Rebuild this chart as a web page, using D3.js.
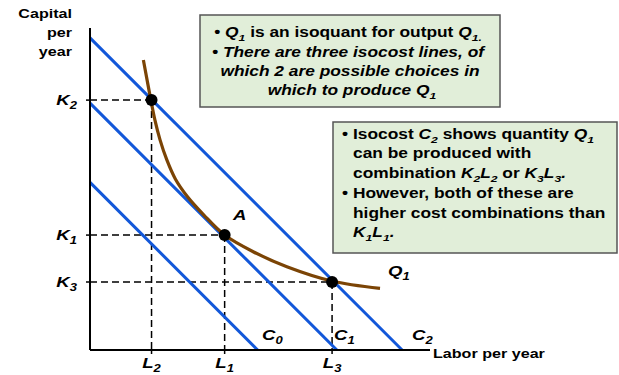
<!DOCTYPE html>
<html>
<head>
<meta charset="utf-8">
<script src="https://cdn.jsdelivr.net/npm/d3@7"></script>
<style>
  body { margin: 0; background: #fff; }
  svg { display: block; font-family: "Liberation Sans", Arial, sans-serif; font-weight: bold; }
</style>
</head>
<body>
<div id="chart"></div>
<script>
// quantities in the chart's own units (labor, capital)
const laborTicks = [
  { name: "L", sub: "2", v: 1.81 },
  { name: "L", sub: "1", v: 3.96 },
  { name: "L", sub: "3", v: 7.12 },
];
const capitalTicks = [
  { name: "K", sub: "2", v: 7.35 },
  { name: "K", sub: "1", v: 3.38 },
  { name: "K", sub: "3", v: 2.0 },
];
// isocost lines L + K = C
const isocosts = [
  { name: "C", sub: "0", c: 4.93 },
  { name: "C", sub: "1", c: 7.26 },
  { name: "C", sub: "2", c: 9.18 },
];
// isoquant Q1
const isoquant = [
  [1.57, 8.53], [1.79, 7.35], [1.91, 6.76], [2.06, 6.18], [2.26, 5.59],
  [2.51, 5.03], [2.85, 4.53], [3.35, 3.97], [3.96, 3.38], [4.8, 2.89],
  [5.79, 2.45], [7.11, 2.03], [8.53, 1.81],
];
// chosen combinations (L index, K index)
const combos = [[0, 0], [1, 1], [2, 2]];

const W = 619, H = 375;
const SX = 1.24; // the slide is stretched sideways
const x = d3.scaleLinear().domain([0, 10]).range([90, 430]);
const y = d3.scaleLinear().domain([0, 10]).range([350, 10]);
const yTop = 9.47;

const svg = d3.select("#chart").append("svg").attr("width", W).attr("height", H);

// text with italic / subscript parts
function rich(g, px, py, anchor, parts, size) {
  const t = g.append("text").attr("transform", `translate(${px},${py}) scale(${SX},1)`)
    .attr("text-anchor", anchor).attr("font-size", size).attr("fill", "#000");
  let down = false;
  for (const p of parts) {
    const s = t.append("tspan").text(p.t);
    if (p.i) s.attr("font-style", "italic");
    if (p.sub && !down) { s.attr("dy", 4).attr("font-size", size * 0.7); down = true; }
    else if (p.sub) s.attr("font-size", size * 0.7);
    else if (down) { s.attr("dy", -4); down = false; }
  }
  return t;
}

// text boxes
const boxFill = "#e1eed9", boxStroke = "#555";
svg.append("rect").attr("x", 200).attr("y", 15).attr("width", 300).attr("height", 92)
  .attr("fill", boxFill).attr("stroke", boxStroke).attr("stroke-width", 1.5);
svg.append("rect").attr("x", 333).attr("y", 122).attr("width", 284).attr("height", 131)
  .attr("fill", boxFill).attr("stroke", boxStroke).attr("stroke-width", 1.5);

const fs = 14;
rich(svg, 348, 37, "middle", [
  { t: "• " }, { t: "Q", i: 1 }, { t: "1", i: 1, sub: 1 }, { t: " is an isoquant for output " },
  { t: "Q", i: 1 }, { t: "1.", i: 1, sub: 1 }], fs);
rich(svg, 348, 57, "middle", [{ t: "• There are three isocost lines, of", i: 1 }], fs);
rich(svg, 350, 76, "middle", [{ t: "which 2 are possible choices in", i: 1 }], fs);
rich(svg, 352, 95, "middle", [{ t: "which to produce Q", i: 1 }, { t: "1", i: 1, sub: 1 }], fs);

const bx = 342, tx = 353;
rich(svg, bx, 139, "start", [{ t: "•" }], fs);
rich(svg, tx, 139, "start", [{ t: "Isocost " }, { t: "C", i: 1 }, { t: "2", i: 1, sub: 1 },
  { t: " shows quantity " }, { t: "Q", i: 1 }, { t: "1", i: 1, sub: 1 }], fs);
rich(svg, tx, 158, "start", [{ t: "can be produced with" }], fs);
rich(svg, tx, 178, "start", [{ t: "combination " }, { t: "K", i: 1 }, { t: "2", i: 1, sub: 1 },
  { t: "L", i: 1 }, { t: "2", i: 1, sub: 1 }, { t: " or " }, { t: "K", i: 1 }, { t: "3", i: 1, sub: 1 },
  { t: "L", i: 1 }, { t: "3", i: 1, sub: 1 }, { t: ".", i: 1 }], fs);
rich(svg, bx, 198, "start", [{ t: "•" }], fs);
rich(svg, tx, 198, "start", [{ t: "However, both of these are" }], fs);
rich(svg, tx, 218, "start", [{ t: "higher cost combinations than" }], fs);
rich(svg, tx, 237, "start", [{ t: "K", i: 1 }, { t: "1", i: 1, sub: 1 }, { t: "L", i: 1 },
  { t: "1", i: 1, sub: 1 }, { t: ".", i: 1 }], fs);

// dashed guides
const guides = svg.append("g").attr("stroke", "#000").attr("stroke-width", 1.5)
  .attr("stroke-dasharray", "7,4").attr("fill", "none");
for (const [li, ki] of combos) {
  const L = laborTicks[li].v, K = capitalTicks[ki].v;
  guides.append("line").attr("x1", x(0)).attr("x2", x(L)).attr("y1", y(K)).attr("y2", y(K));
  guides.append("line").attr("x1", x(L)).attr("x2", x(L)).attr("y1", y(K)).attr("y2", y(0));
}

// isocost lines
svg.append("g").selectAll("line").data(isocosts).join("line")
  .attr("x1", (d) => x(0)).attr("y1", (d) => y(d.c))
  .attr("x2", (d) => x(d.c)).attr("y2", (d) => y(0))
  .attr("stroke", "#1257d9").attr("stroke-width", 3);

// isoquant
svg.append("path").datum(isoquant)
  .attr("d", d3.line().x((d) => x(d[0])).y((d) => y(d[1])).curve(d3.curveCatmullRom))
  .attr("fill", "none").attr("stroke", "#7b4405").attr("stroke-width", 3.2);

// axes
svg.append("line").attr("x1", x(0)).attr("x2", x(0)).attr("y1", y(yTop)).attr("y2", y(0))
  .attr("stroke", "#000").attr("stroke-width", 2);
svg.append("line").attr("x1", x(0)).attr("x2", 430).attr("y1", y(0)).attr("y2", y(0))
  .attr("stroke", "#000").attr("stroke-width", 2);
for (const k of capitalTicks) {
  svg.append("line").attr("x1", x(0) - 4).attr("x2", x(0)).attr("y1", y(k.v)).attr("y2", y(k.v))
    .attr("stroke", "#000").attr("stroke-width", 1.5);
  rich(svg, 77, y(k.v) + 5, "end", [{ t: k.name, i: 1 }, { t: k.sub, i: 1, sub: 1 }], 15);
}
for (const l of laborTicks) {
  svg.append("line").attr("x1", x(l.v)).attr("x2", x(l.v)).attr("y1", y(0)).attr("y2", y(0) + 4)
    .attr("stroke", "#000").attr("stroke-width", 1.5);
  rich(svg, x(l.v), 368, "middle", [{ t: l.name, i: 1 }, { t: l.sub, i: 1, sub: 1 }], 15);
}

// combination points
svg.append("g").selectAll("circle").data(combos).join("circle")
  .attr("cx", (d) => x(laborTicks[d[0]].v)).attr("cy", (d) => y(capitalTicks[d[1]].v))
  .attr("r", 6).attr("fill", "#000");

// line labels
isocosts.forEach((d, i) => {
  const lx = [262, 334, 412][i];
  rich(svg, lx, 340, "start", [{ t: d.name, i: 1 }, { t: d.sub, i: 1, sub: 1 }], 15);
});
rich(svg, 388, 276, "start", [{ t: "Q", i: 1 }, { t: "1", i: 1, sub: 1 }], 15);
rich(svg, 233, 220, "start", [{ t: "A", i: 1 }], 15);

// axis titles
["Capital", "per", "year"].forEach((s, i) => {
  rich(svg, 72, 18 + i * 19, "end", [{ t: s }], 13);
});
rich(svg, 433, 358, "start", [{ t: "Labor per year" }], 13);
</script>
</body>
</html>
